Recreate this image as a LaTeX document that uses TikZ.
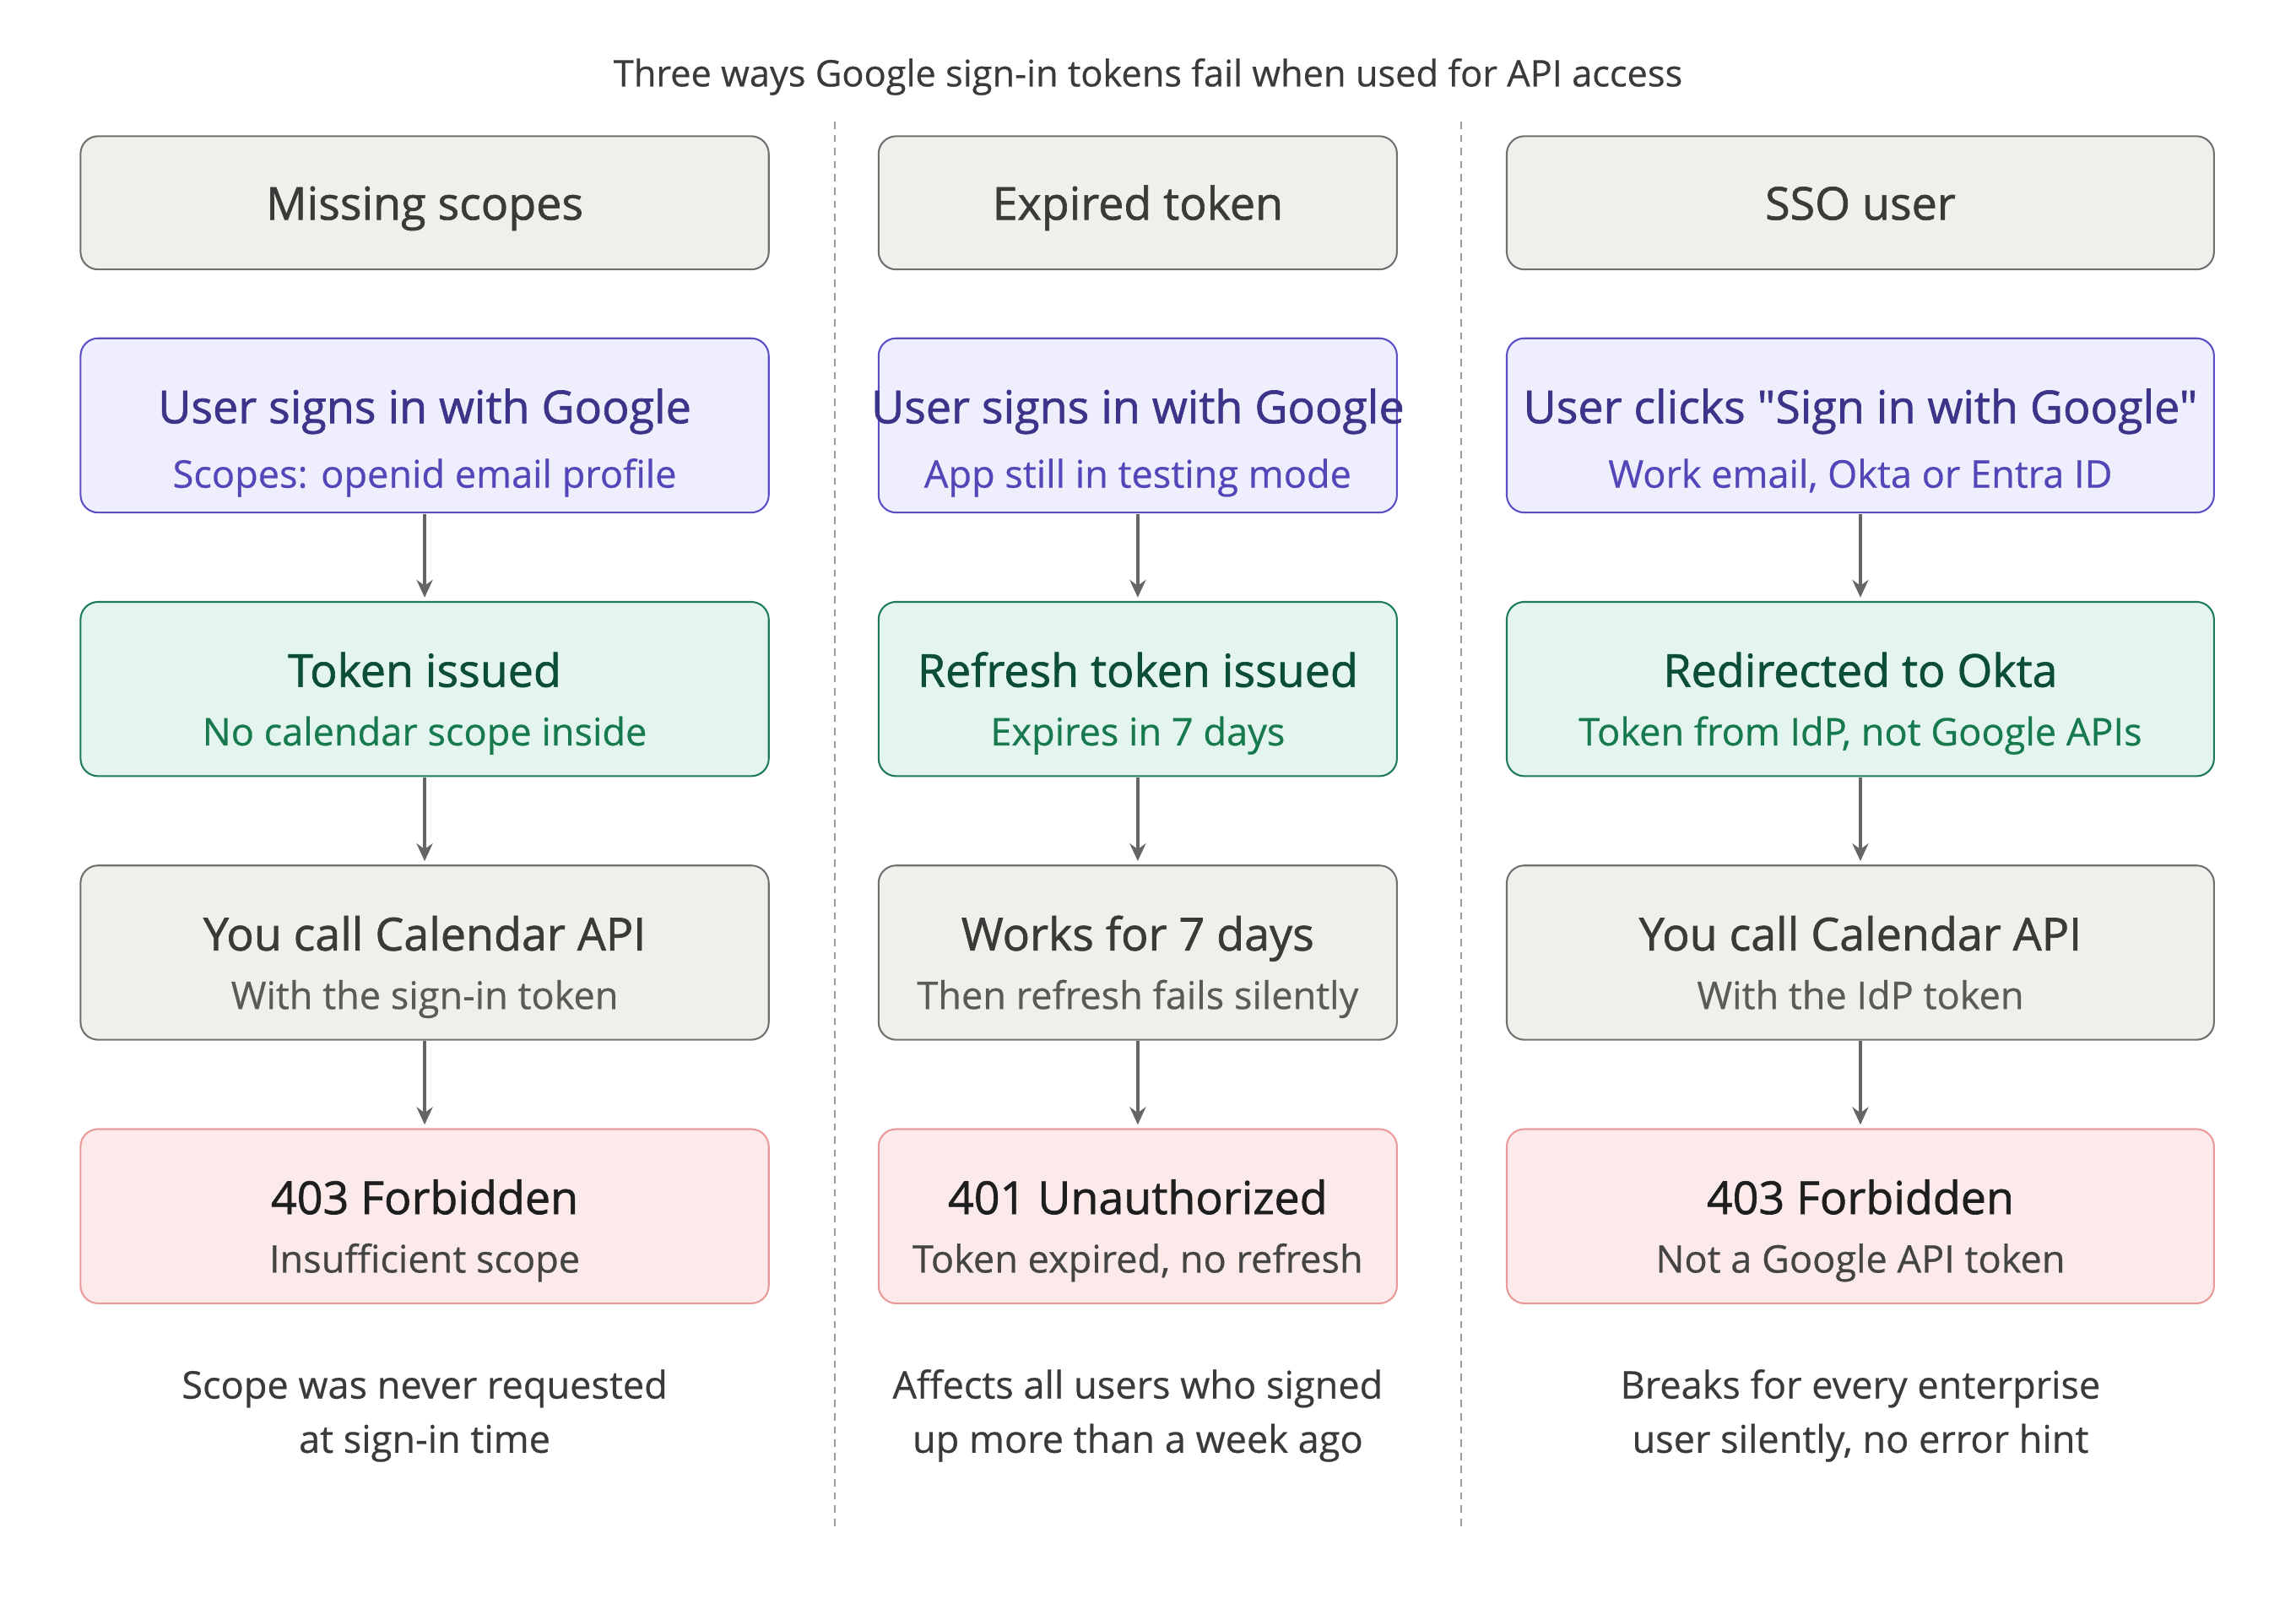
\documentclass[tikz,border=0pt]{standalone}
\usepackage{fontspec}
\setmainfont{Open Sans}
\newfontfamily\medf[FakeBold=1.2]{Open Sans}
\newfontfamily\semf[FakeBold=0.5]{Open Sans}
\usetikzlibrary{arrows.meta}
\definecolor{gf}{HTML}{F0EFEA}\definecolor{gs}{HTML}{707070}\definecolor{gt}{HTML}{3A3A38}\definecolor{gt2}{HTML}{5A5A56}
\definecolor{pf}{HTML}{EEEEFD}\definecolor{ps}{HTML}{5B4FC9}\definecolor{pt}{HTML}{3C3489}\definecolor{pt2}{HTML}{5346B8}
\definecolor{ef}{HTML}{E3F5EE}\definecolor{es}{HTML}{1D7A5A}\definecolor{et}{HTML}{0B4D35}\definecolor{et2}{HTML}{167A4E}
\definecolor{rf}{HTML}{FCEAEA}\definecolor{rs}{HTML}{E89A9A}\definecolor{rt}{HTML}{1E1E1E}\definecolor{rt2}{HTML}{444444}
\tikzset{
 box/.style={draw, rounded corners=12pt, line width=1.2pt, inner sep=0pt},
 arr/.style={-{Stealth[length=12pt,width=11pt]}, draw=gs!90!black, line width=2.2pt},
 tt/.style={anchor=base, font=\medf\fontsize{31}{36}\selectfont},
 st/.style={anchor=base, font=\semf\fontsize{26}{30}\selectfont},
 note/.style={font=\semf\fontsize{26}{37}\selectfont, text=gt, align=center, anchor=base},
}
\begin{document}
\begin{tikzpicture}[x=1pt,y=-1pt]
\useasboundingbox (0,0) rectangle (1568,1106);
\node[anchor=base, font=\semf\fontsize{25}{28}\selectfont, text=gt] (title) at (784,59) {Three ways Google sign-in tokens fail when used for API access};
\draw[gs!70, line width=1pt, dash pattern=on 5pt off 4pt] (570,83) coordinate (d1a) -- (570,1045) coordinate (d1b);
\draw[gs!70, line width=1pt, dash pattern=on 5pt off 4pt] (998,83) coordinate (d2a) -- (998,1045) coordinate (d2b);
\foreach \c/\xa/\xb/\h/\pa/\pb/\ea/\eb/\ga/\gb/\ra/\rb/\na/\nb in {
 1/55/525/Missing scopes/User signs in with Google/Scopes: openid email profile/Token issued/No calendar scope inside/You call Calendar API/With the sign-in token/403 Forbidden/Insufficient scope/Scope was never requested/at sign-in time,
 2/600/954/Expired token/User signs in with Google/App still in testing mode/Refresh token issued/Expires in 7 days/Works for 7 days/Then refresh fails silently/401 Unauthorized/{Token expired, no refresh}/Affects all users who signed/up more than a week ago,
 3/1029/1512/SSO user/User clicks \symbol{34}Sign in with Google\symbol{34}/{Work email, Okta or Entra ID}/Redirected to Okta/{Token from IdP, not Google APIs}/You call Calendar API/With the IdP token/403 Forbidden/Not a Google API token/Breaks for every enterprise/{user silently, no error hint}}{
 \pgfmathsetmacro{\xm}{(\xa+\xb)/2}
 \draw[box, fill=gf, draw=gs] (\xa,93) rectangle (\xb,184);
 \node[tt, text=gt] (h\c) at (\xm,150) {\h};
 \draw[box, fill=pf, draw=ps] (\xa,231) rectangle (\xb,350);
 \node[tt, text=pt] (p\c) at (\xm,289) {\pa};
 \node[st, text=pt2] (ps\c) at (\xm,333) {\pb};
 \draw[box, fill=ef, draw=es] (\xa,411) rectangle (\xb,530);
 \node[tt, text=et] (e\c) at (\xm,469) {\ea};
 \node[st, text=et2] (es\c) at (\xm,509) {\eb};
 \draw[box, fill=gf, draw=gs] (\xa,591) rectangle (\xb,710);
 \node[tt, text=gt] (g\c) at (\xm,649) {\ga};
 \node[st, text=gt2] (gs\c) at (\xm,689) {\gb};
 \draw[box, fill=rf, draw=rs] (\xa,771) rectangle (\xb,890);
 \node[tt, text=rt] (r\c) at (\xm,829) {\ra};
 \node[st, text=rt2] (rs\c) at (\xm,869) {\rb};
 \node[note] (n\c) at (\xm,955) {\na};
 \node[note] (m\c) at (\xm,992) {\nb};
 \coordinate (a1\c) at (\xm,351); \coordinate (b1\c) at (\xm,408);
 \coordinate (a2\c) at (\xm,531); \coordinate (b2\c) at (\xm,588);
 \coordinate (a3\c) at (\xm,711); \coordinate (b3\c) at (\xm,768);
 \draw[arr] (a1\c) -- (b1\c);
 \draw[arr] (a2\c) -- (b2\c);
 \draw[arr] (a3\c) -- (b3\c);
}
\end{tikzpicture}
\end{document}
